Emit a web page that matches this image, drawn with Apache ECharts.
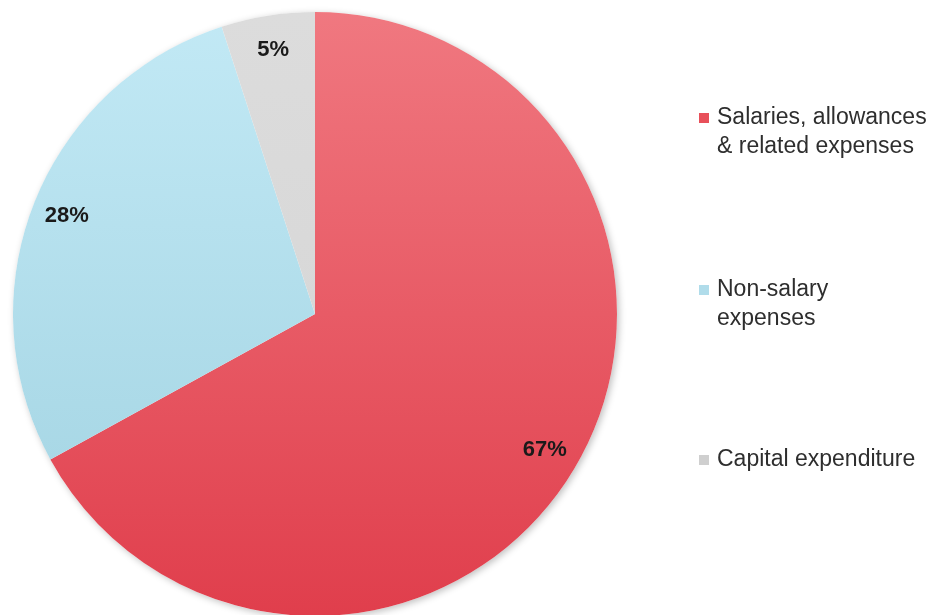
<!DOCTYPE html>
<html>
<head>
<meta charset="utf-8">
<script src="https://cdn.jsdelivr.net/npm/echarts@6/dist/echarts.min.js"></script>
<style>
  html, body { margin: 0; padding: 0; background: #fff; }
  #chart { width: 941px; height: 615px; }
</style>
</head>
<body>
<div id="chart"></div>
<script>
// Expenditure breakdown
const categories = ['Salaries, allowances & related expenses', 'Non-salary expenses', 'Capital expenditure'];
const legendLines = [['Salaries, allowances', '& related expenses'], ['Non-salary', 'expenses'], ['Capital expenditure']];
const shares = [67, 28, 5];

const grad = (top, bottom) => ({
  type: 'linear', x: 0, y: 12, x2: 0, y2: 616, global: true,
  colorStops: [{ offset: 0, color: top }, { offset: 1, color: bottom }]
});
const colors = [grad('#f07880', '#e03e4c'), grad('#c2e9f5', '#a0d2e1'), grad('#dcdcdc', '#d4d4d4')];
const iconColors = ['#e8505a', '#b0dcea', '#cfcfcf'];

const chart = echarts.init(document.getElementById('chart'), null, { renderer: 'canvas' });

const FONT = 'Liberation Sans, Arial, sans-serif';
const FONT_SIZE = 23;
const LINE = 29;
const LEGEND_LEFT = 699;
const TEXT_LEFT = LEGEND_LEFT + 10 + 5 + 3;
const legendCenters = [118, 290, 460];

// one legend per entry so each icon sits beside the first line of its label
const legends = categories.map((name, i) => ({
  orient: 'vertical',
  left: LEGEND_LEFT,
  top: legendCenters[i] - LINE / 2,
  padding: 0,
  itemWidth: 10,
  itemHeight: 10,
  itemGap: 0,
  selectedMode: false,
  icon: 'rect',
  data: [{ name, itemStyle: { color: iconColors[i] } }],
  formatter: () => legendLines[i][0],
  textStyle: {
    fontFamily: FONT,
    fontSize: FONT_SIZE,
    lineHeight: LINE,
    color: '#2e2e2e',
    padding: [0, 0, 0, 3]
  }
}));

// continuation lines of the wrapped legend labels
const legendTail = [];
legendLines.forEach((lines, i) => {
  lines.slice(1).forEach((text, k) => {
    legendTail.push({
      type: 'text',
      silent: true,
      style: {
        x: TEXT_LEFT,
        y: legendCenters[i] + LINE * (k + 1),
        text,
        fontFamily: FONT,
        fontSize: FONT_SIZE,
        fill: '#2e2e2e',
        verticalAlign: 'middle',
        align: 'left'
      }
    });
  });
});

const data = categories.map((name, i) => ({ name, value: shares[i], itemStyle: { color: colors[i] } }));

chart.setOption({
  animation: false,
  legend: legends,
  graphic: legendTail,
  series: [
    {
      // soft drop shadow under the whole disc
      type: 'pie',
      center: [315, 314],
      radius: [0, 302],
      silent: true,
      legendHoverLink: false,
      label: { show: false },
      labelLine: { show: false },
      itemStyle: {
        color: '#ffffff',
        shadowBlur: 7,
        shadowColor: 'rgba(0,0,0,0.25)',
        shadowOffsetX: 2,
        shadowOffsetY: 2
      },
      emphasis: { disabled: true },
      z: 1,
      data: [{ name: '', value: 1 }]
    },
    {
      type: 'pie',
      center: [315, 314],
      radius: [0, 302],
      startAngle: 90,
      clockwise: true,
      avoidLabelOverlap: false,
      label: { show: false },
      labelLine: { show: false },
      itemStyle: { borderWidth: 0 },
      emphasis: { disabled: true },
      z: 2,
      data
    },
    {
      // transparent ring that carries the percentage labels at ~0.87 of the radius
      type: 'pie',
      center: [315, 314],
      radius: [226, 302],
      startAngle: 90,
      clockwise: true,
      silent: true,
      legendHoverLink: false,
      itemStyle: { color: 'rgba(0,0,0,0)' },
      label: {
        show: true,
        position: 'inside',
        formatter: '{c}%',
        fontFamily: FONT,
        fontWeight: 'bold',
        fontSize: 22,
        color: '#1a1a1a'
      },
      labelLine: { show: false },
      emphasis: { disabled: true },
      z: 3,
      data: categories.map((name, i) => ({ name, value: shares[i] }))
    }
  ]
});
</script>
</body>
</html>
